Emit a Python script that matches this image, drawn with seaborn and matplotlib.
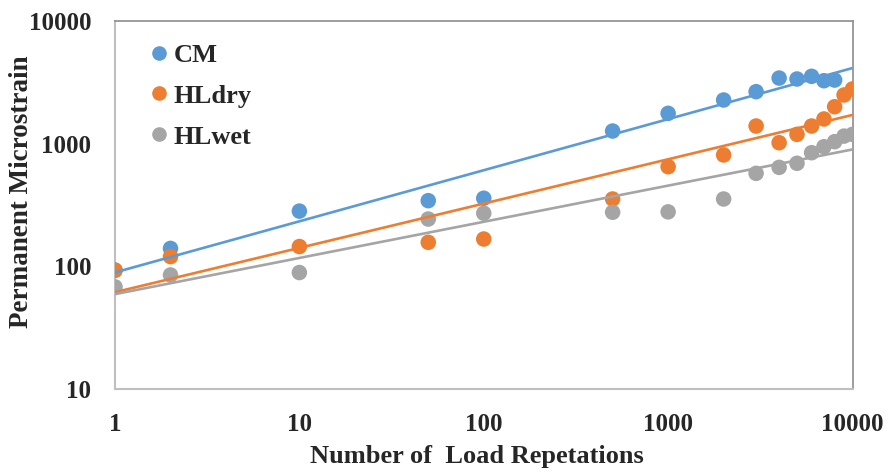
import numpy as np
import pandas as pd
import matplotlib
matplotlib.use("Agg")
import matplotlib.pyplot as plt
import seaborn as sns
from matplotlib.ticker import FixedLocator, FixedFormatter, NullLocator

# ---- data ----
reps = [1, 2, 10, 50, 100, 500, 1000, 2000, 3000, 4000, 5000, 6000, 7000, 8000, 9000, 10000]
cm_vals = [93, 140, 282, 343, 359, 1268, 1767, 2270, 2654, 3427, 3366, 3540, 3260, 3300]
hldry_vals = [93, 120, 145, 157, 167, 354, 649, 809, 1393, 1018, 1191, 1393, 1589, 2000, 2494, 2793]
hlwet_vals = [68, 85, 89, 243, 271, 276, 278, 354, 573, 641, 692, 844, 944, 1038, 1153, 1191]
series_names = ["CM", "HLdry", "HLwet"]
colors = ["#5B9BD5", "#ED7D31", "#A5A5A5"]
x_ticks = [1, 10, 100, 1000, 10000]
x_ticklabels = ["1", "10", "100", "1000", "10000"]
y_ticks = [10, 100, 1000, 10000]
y_ticklabels = ["10", "100", "1000", "10000"]

series_vals = [cm_vals, hldry_vals, hlwet_vals]
df = pd.concat([
    pd.DataFrame({"N": reps[:len(v)], "strain": v, "series": name})
    for name, v in zip(series_names, series_vals)
], ignore_index=True)

sns.set_style("white")
plt.rcParams["font.family"] = ["Liberation Serif", "DejaVu Serif"]
plt.rcParams["font.weight"] = "bold"

W, H = 889, 475
fig = plt.figure(figsize=(W / 100, H / 100), dpi=100)
ax = fig.add_axes([115 / W, 1 - 389 / H, (852.5 - 115) / W, (389 - 21) / H])

palette = dict(zip(series_names, colors))
sns.scatterplot(data=df, x="N", y="strain", hue="series", palette=palette,
                s=125, linewidth=0, edgecolor="none", ax=ax, zorder=3, legend=False)

# power trend lines (least squares in log-log space)
xfit = np.array([1, 10000], dtype=float)
for name, v, c in zip(series_names, series_vals, colors):
    lx = np.log10(np.array(reps[:len(v)], dtype=float))
    ly = np.log10(np.array(v, dtype=float))
    b, a = np.polyfit(lx, ly, 1)
    ax.plot(xfit, 10 ** (a + b * np.log10(xfit)), color=c, lw=1.9, zorder=4,
            solid_capstyle="butt")

ax.set_xscale("log")
ax.set_yscale("log")
ax.set_xlim(1, 10000)
ax.set_ylim(10, 10000)
ax.xaxis.set_major_locator(FixedLocator(x_ticks))
ax.xaxis.set_major_formatter(FixedFormatter(x_ticklabels))
ax.yaxis.set_major_locator(FixedLocator(y_ticks))
ax.yaxis.set_major_formatter(FixedFormatter(y_ticklabels))
ax.xaxis.set_minor_locator(NullLocator())
ax.yaxis.set_minor_locator(NullLocator())
ax.tick_params(axis="both", length=0, labelsize=18)
ax.tick_params(axis="x", pad=17)
ax.tick_params(axis="y", pad=17)
for lab in ax.get_xticklabels() + ax.get_yticklabels():
    lab.set_fontweight("bold")

ax.set_xlabel("Number of  Load Repetations", fontsize=19, fontweight="bold")
ax.set_ylabel("Permanent Microstrain", fontsize=19.5, fontweight="bold")
# place axis labels (axes-fraction coordinates)
ax.xaxis.set_label_coords((477 - 115) / (852.5 - 115), -(457 - 389) / (389 - 21))
ax.yaxis.set_label_coords(-(115 - 21) / (852.5 - 115), (389 - 192) / (389 - 21))
ax.xaxis.label.set_va("center")
ax.yaxis.label.set_va("center")
ax.grid(False)

for side in ["top", "right"]:
    ax.spines[side].set_color("#8C8C8C")
    ax.spines[side].set_linewidth(1.2)
for side in ["left", "bottom"]:
    ax.spines[side].set_color("#BFBFBF")
    ax.spines[side].set_linewidth(1.5)

handles = [plt.Line2D([], [], marker="o", linestyle="none", color=c, markersize=9.5)
           for c in colors]
ax.legend(handles, series_names, loc="upper left", bbox_to_anchor=(0.028, 0.968),
          frameon=False, prop={"family": "Liberation Serif", "weight": "bold", "size": 19},
          handletextpad=0.05, labelspacing=0.66, handlelength=1.0, borderaxespad=0)

fig.savefig("out.png", dpi=100)
